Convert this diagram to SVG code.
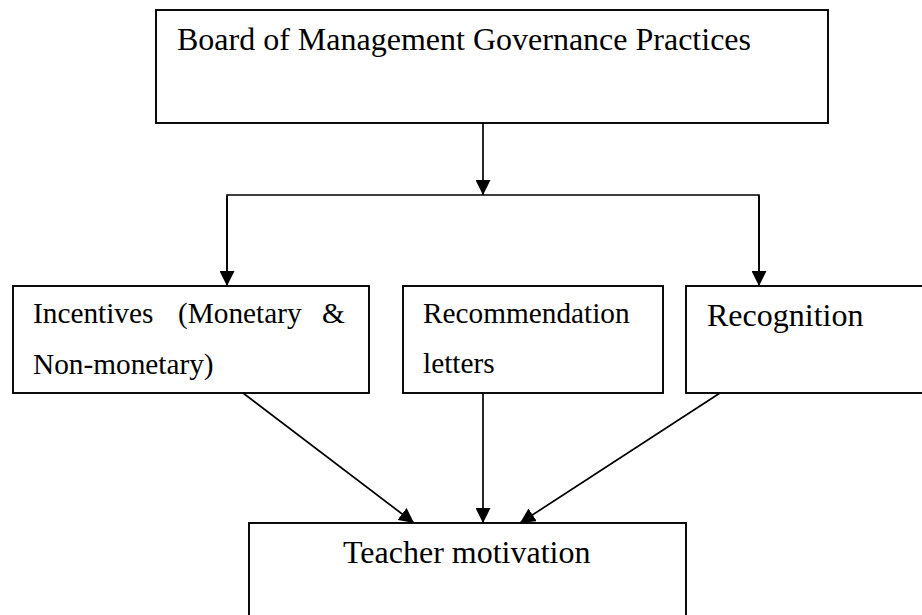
<svg xmlns="http://www.w3.org/2000/svg" width="922" height="615" viewBox="0 0 922 615">
<style>
  .box { fill: #fff; stroke: #000; stroke-width: 1.9; }
  .lg { font-family: "Liberation Serif", "Times New Roman", serif; font-size: 32px; fill: #000; }
  .sm { font-family: "Liberation Serif", "Times New Roman", serif; font-size: 29.3px; fill: #000; }
  .conn { fill: none; stroke: #000; stroke-width: 1.7; }
</style>
<defs>
  <marker id="arr" markerUnits="userSpaceOnUse" markerWidth="15" markerHeight="15" refX="15" refY="7.5" orient="auto">
    <path d="M0,0 L15,7.5 L0,15 z" fill="#000"/>
  </marker>
</defs>
<rect width="922" height="615" fill="#fff"/>
<g id="board">
  <rect class="box" x="156" y="10" width="672" height="113"/>
  <text class="lg" x="177" y="50">Board of Management Governance Practices</text>
</g>
<g id="incentives">
  <rect class="box" x="13" y="286" width="356" height="107"/>
  <text class="sm" y="323"><tspan x="33">Incentives</tspan><tspan x="178">(Monetary</tspan><tspan x="322">&amp;</tspan></text>
  <text class="sm" x="33" y="374">Non-monetary)</text>
</g>
<g id="recommendation">
  <rect class="box" x="403" y="286" width="260" height="107"/>
  <text class="sm" x="423" y="323">Recommendation</text>
  <text class="sm" x="423" y="373">letters</text>
</g>
<g id="recognition">
  <rect class="box" x="686" y="286" width="240" height="107"/>
  <text class="lg" x="707" y="326">Recognition</text>
</g>
<g id="teacher">
  <rect class="box" x="249" y="523" width="437" height="100"/>
  <text class="lg" x="343" y="563">Teacher motivation</text>
</g>
<g id="connectors">
  <line class="conn" x1="483" y1="123" x2="483" y2="195" marker-end="url(#arr)"/>
  <polyline class="conn" points="227,285 227,195 759,195 759,285"/>
  <line class="conn" x1="227" y1="196" x2="227" y2="286" marker-end="url(#arr)"/>
  <line class="conn" x1="759" y1="196" x2="759" y2="286" marker-end="url(#arr)"/>
  <line class="conn" x1="243" y1="393" x2="414" y2="523" marker-end="url(#arr)"/>
  <line class="conn" x1="483" y1="393" x2="483" y2="523" marker-end="url(#arr)"/>
  <line class="conn" x1="720" y1="393" x2="520" y2="523" marker-end="url(#arr)"/>
</g>
</svg>
